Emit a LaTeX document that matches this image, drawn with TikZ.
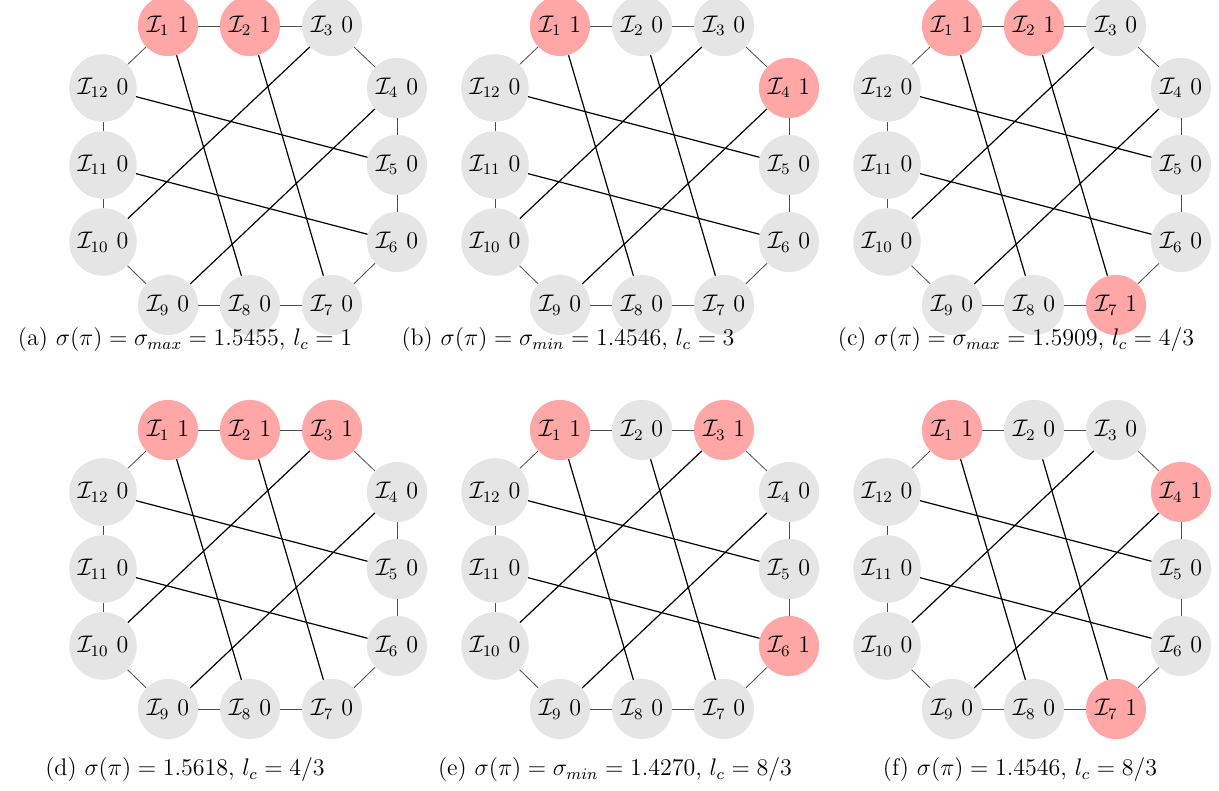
\documentclass[tikz,border=0pt]{standalone}
\usepackage{tikz}

% one ring of twelve intervals: #1 prefix, #2/#3 shift, #4 the twelve states
\newcommand{\ringgraph}[4]{%
  \begin{scope}[shift={(#2,#3)}]
    % places of the nodes
    \foreach \x/\y [count=\k] in {168/26,250/26,332/26,397/88,397/165,397/242,
                                  332/305,250/305,168/305,103/242,103/165,103/88}
      \coordinate (p\k) at (\x,\y);
    % nodes
    \foreach \v [count=\k] in {#4}
      \node[vertex\v] (#1\k) at (p\k) {$\mathcal{I}_{\k}$ \v};
    % ring
    \foreach \i/\j in {1/2,2/3,3/4,4/5,5/6,6/7,7/8,8/9,9/10,10/11,11/12,12/1}
      \draw[ring] (#1\i) -- (#1\j);
    % chords
    \foreach \i/\j in {1/8,2/7,3/10,4/9,12/5,11/6}
      \draw[chord] (#1\i) -- (#1\j);
  \end{scope}}

\begin{document}
\begin{tikzpicture}[
    x=0.5pt, y=-0.5pt,
    vertex/.style={circle, inner sep=2.5pt, font=\large},
    vertex0/.style={vertex, fill=gray!20},
    vertex1/.style={vertex, fill=red!35},
    ring/.style={draw=black!70, line width=0.4pt},
    chord/.style={draw=black, line width=0.6pt},
    caption/.style={anchor=center, font=\large}
]
\clip (0,0) rectangle (1219,791);

% Top row
\ringgraph{a}{0}{0}{1,1,0,0,0,0,0,0,0,0,0,0}
\ringgraph{b}{392}{0}{1,0,0,1,0,0,0,0,0,0,0,0}
\ringgraph{c}{784}{0}{1,1,0,0,0,0,1,0,0,0,0,0}

% Bottom row
\ringgraph{d}{0}{404}{1,1,1,0,0,0,0,0,0,0,0,0}
\ringgraph{e}{392}{404}{1,0,1,0,0,1,0,0,0,0,0,0}
\ringgraph{f}{784}{404}{1,0,0,1,0,0,1,0,0,0,0,0}

% Captions
\node[caption] (capa) at (185,340) {(a) $\sigma(\pi) = \sigma_{max} = 1.5455$, $l_c = 1$};
\node[caption] (capb) at (568,340) {(b) $\sigma(\pi) = \sigma_{min} = 1.4546$, $l_c = 3$};
\node[caption] (capc) at (1016,340) {(c) $\sigma(\pi) = \sigma_{max} = 1.5909$, $l_c = 4/3$};
\node[caption] (capd) at (185,770) {(d) $\sigma(\pi) = 1.5618$, $l_c = 4/3$};
\node[caption] (cape) at (615,770) {(e) $\sigma(\pi) = \sigma_{min} = 1.4270$, $l_c = 8/3$};
\node[caption] (capf) at (1020,770) {(f) $\sigma(\pi) = 1.4546$, $l_c = 8/3$};

\end{tikzpicture}
\end{document}
